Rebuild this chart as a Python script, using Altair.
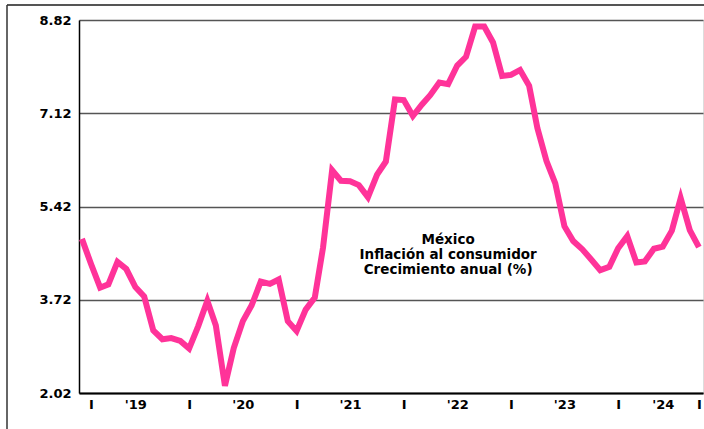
import json
import altair as alt
import pandas as pd

# Monthly data, Dec 2018 - Sep 2024
start_month = "2018-12-01"
inflation = [
    4.83,                                                                    # Dec 2018
    4.37, 3.94, 4.00, 4.41, 4.28, 3.95, 3.78, 3.16, 3.00, 3.02, 2.97, 2.83,  # 2019
    3.24, 3.70, 3.25, 2.15, 2.84, 3.33, 3.62, 4.05, 4.01, 4.09, 3.33, 3.15,  # 2020
    3.54, 3.76, 4.67, 6.08, 5.89, 5.88, 5.81, 5.59, 6.00, 6.24, 7.37, 7.36,  # 2021
    7.07, 7.28, 7.45, 7.68, 7.65, 7.99, 8.15, 8.70, 8.70, 8.41, 7.80, 7.82,  # 2022
    7.91, 7.62, 6.85, 6.25, 5.84, 5.06, 4.79, 4.64, 4.45, 4.26, 4.32, 4.66,  # 2023
    4.88, 4.40, 4.42, 4.65, 4.69, 4.98, 5.57, 4.99, 4.68,                    # 2024
]
y_ticks = [2.02, 3.72, 5.42, 7.12, 8.82]
x_label_months = ["2019-01", "2019-06", "2019-12", "2020-06", "2020-12", "2021-06",
                  "2021-12", "2022-06", "2022-12", "2023-06", "2023-12", "2024-05", "2024-09"]
x_label_texts = ["I", "'19", "I", "'20", "I", "'21", "I", "'22", "I", "'23", "I", "'24", "I"]
note_lines = ["México", "Inflación al consumidor", "Crecimiento anual (%)"]
note_date = "2022-05-01"
note_value = 4.81

dates = pd.date_range(start_month, periods=len(inflation), freq="MS").strftime("%Y-%m-%d")
df = pd.DataFrame({"fecha": dates, "valor": inflation})

label_expr = "{}[indexof({}, utcFormat(datum.value, '%Y-%m'))]".format(
    json.dumps(x_label_texts), json.dumps(x_label_months))
tick_values = [alt.DateTime(year=int(m[:4]), month=int(m[5:]), date=1, utc=True) for m in x_label_months]

FONT = "DejaVu Sans"
W, H = 624, 373

x_enc = alt.X(
    "fecha:T",
    scale=alt.Scale(type="utc", domain=[alt.DateTime(year=2018, month=11, date=21, utc=True),
                                        alt.DateTime(year=2024, month=9, date=15, utc=True)]),
    axis=alt.Axis(values=tick_values, labelExpr=label_expr, title=None, grid=False,
                  ticks=False, domainColor="#000000", domainWidth=2,
                  labelFont=FONT, labelFontWeight="bold", labelFontSize=13,
                  labelColor="#000000", labelPadding=5, labelAngle=0,
                  labelOverlap=False, labelFlush=False),
)
y_enc = alt.Y(
    "valor:Q",
    scale=alt.Scale(domain=[2.02, 8.82], nice=False, zero=False),
    axis=alt.Axis(values=y_ticks, format=".2f", title=None, grid=True,
                  gridColor="#555555", gridWidth=1.5, ticks=False,
                  domainColor="#000000", domainWidth=1.5,
                  labelFont=FONT, labelFontWeight="bold", labelFontSize=13,
                  labelColor="#000000", labelPadding=8),
)

line = alt.Chart(df).mark_line(color="#FF3399", strokeWidth=6, strokeJoin="miter").encode(
    x=x_enc, y=y_enc
)

note_df = pd.DataFrame({"fecha": [note_date], "valor": [note_value], "txt": ["\n".join(note_lines)]})
note = alt.Chart(note_df).mark_text(
    font=FONT, fontWeight="bold", fontSize=13.5, lineBreak="\n", lineHeight=15,
    align="center", baseline="middle", color="#000000"
).encode(x="fecha:T", y="valor:Q", text="txt:N")

frame_top = alt.Chart(note_df).mark_rule(color="#555555", strokeWidth=2).encode(
    x=alt.value(-72), x2=alt.value(W + 10), y=alt.value(-15)
)
frame_left = alt.Chart(note_df).mark_rule(color="#333333", strokeWidth=1.5).encode(
    x=alt.value(-72), y=alt.value(-15), y2=alt.value(H + 60)
)

chart = alt.layer(line, note, frame_top, frame_left).properties(
    width=W, height=H,
    padding={"left": 79, "top": 20, "right": 1, "bottom": 36},
    autosize=alt.AutoSizeParams(type="none"),
).configure_view(stroke="#000000", strokeWidth=1.5).configure(background="#ffffff")

chart.save("out.html", embed_options={"renderer": "svg", "actions": False})
